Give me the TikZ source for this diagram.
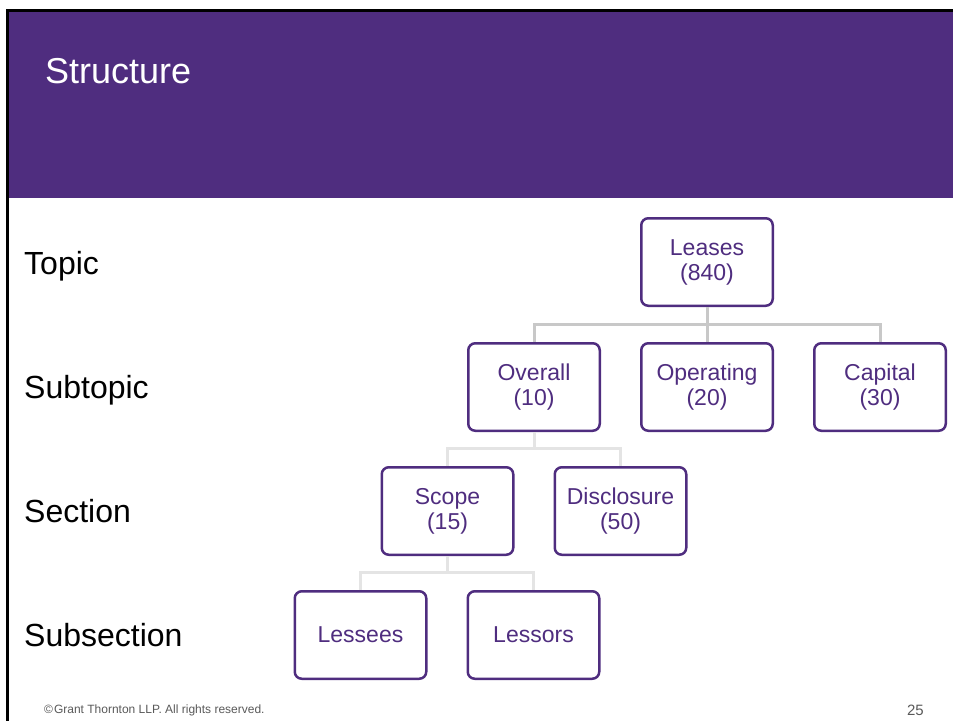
\documentclass[tikz,border=0pt]{standalone}
\usepackage{fontspec}
\setmainfont{Liberation Sans}
\definecolor{gtpurple}{RGB}{79,45,127}
\definecolor{linkdark}{RGB}{200,200,200}
\definecolor{linklight}{RGB}{228,228,228}
\definecolor{footgray}{RGB}{89,89,89}
\begin{document}
\begin{tikzpicture}[x=1pt,y=-1pt,
  box/.style={draw=gtpurple, line width=2.5pt, rounded corners=7pt, fill=white,
    minimum width=131.5pt, minimum height=87.5pt, inner sep=0pt,
    text=gtpurple, align=center, font=\fontsize{23}{25}\selectfont},
  levellabel/.style={anchor=base west, inner sep=0pt, text=black,
    font=\fontsize{32}{32}\selectfont},
  link/.style={line width=3pt, draw=#1},
  foot/.style={inner sep=0pt, text=footgray}]
\useasboundingbox (0,0) rectangle (953,721);

% header band and frame
\fill[gtpurple] (9,12) rectangle (953,198);
\draw[black, line width=3pt] (953,10.5) -- (7.5,10.5) -- (7.5,721);
\node[anchor=base west, inner sep=0pt, text=white, font=\fontsize{36}{36}\selectfont] (title) at (45,83) {Structure};

% level labels
\node[levellabel] (lTopic) at (24,274) {Topic};
\node[levellabel] (lSub) at (24,398) {Subtopic};
\node[levellabel] (lSec) at (24,522) {Section};
\node[levellabel] (lSubsec) at (24,646) {Subsection};

% hierarchy boxes
\node[box] (leases) at (707,262) {Leases\\(840)};
\node[box] (overall) at (534,387) {Overall\\(10)};
\node[box] (operating) at (707,387) {Operating\\(20)};
\node[box] (capital) at (880,387) {Capital\\(30)};
\node[box] (scope) at (447.5,511) {Scope\\(15)};
\node[box] (disclosure) at (620.5,511) {Disclosure\\(50)};
\node[box] (lessees) at (360.5,635) {Lessees};
\node[box] (lessors) at (533.5,635) {Lessors};

% connectors
\draw[link=linkdark] (overall.north) -- ++(0,-18) -| (capital.north);
\draw[link=linkdark] (leases.south) -- (operating.north);
\draw[link=linklight] (scope.north) -- ++(0,-18) -| (disclosure.north);
\draw[link=linklight] (overall.south) -- ++(0,18);
\draw[link=linklight] (lessees.north) -- ++(0,-18) -| (lessors.north);
\draw[link=linklight] (scope.south) -- ++(0,18);

% footer
\node[foot, anchor=base west, font=\fontsize{12}{12}\selectfont] (copy) at (44,713) {©\hspace{1pt}Grant Thornton LLP. All rights reserved.};
\node[foot, anchor=base east, font=\fontsize{15}{15}\selectfont] (page) at (924,715) {25};
\end{tikzpicture}
\end{document}
